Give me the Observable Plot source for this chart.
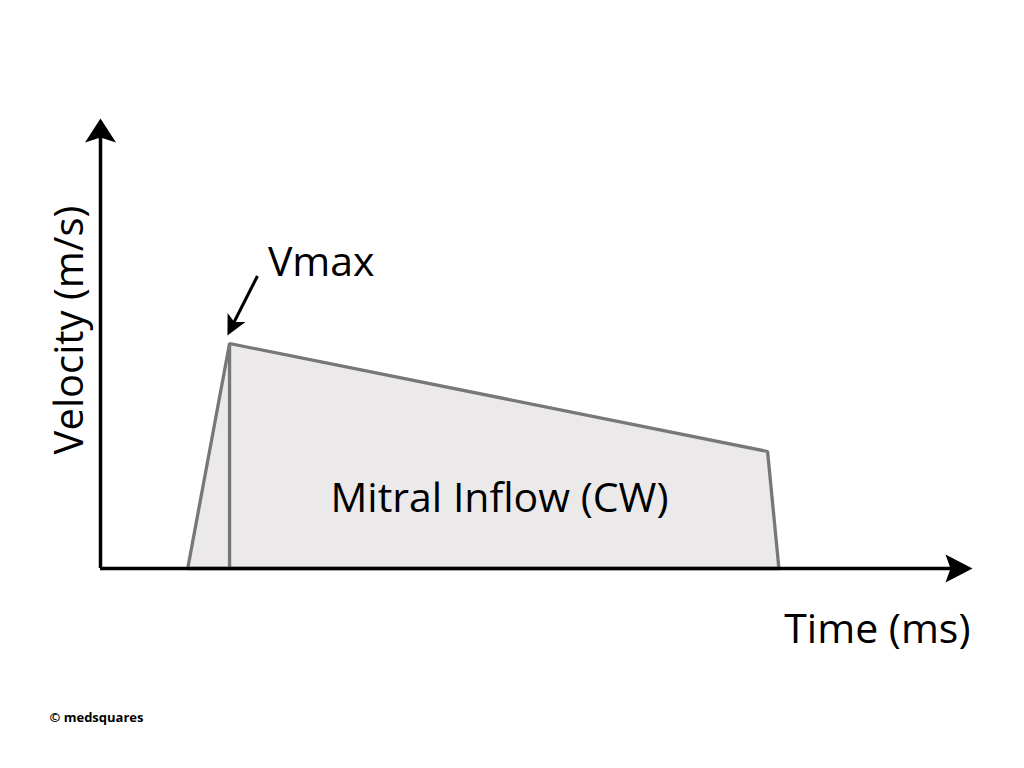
<!DOCTYPE html>
<html>
<head>
<meta charset="utf-8">
<script src="https://cdn.jsdelivr.net/npm/d3@7"></script>
<script src="https://cdn.jsdelivr.net/npm/@observablehq/plot@0.6"></script>
<style>
  html, body { margin: 0; padding: 0; background: #fff; }
  #chart svg { display: block; }
</style>
</head>
<body>
<div id="chart"></div>
<script>
// Mitral inflow (CW) envelope: time (arbitrary ms units) and velocity (m/s)
const envTime = [100, 148, 765, 778, 100];
const envVel  = [0,   1.0, 0.52, 0,  0];
const peakTime = 148;
const peakVel = 1.0;

// Vmax annotation arrow (start -> end)
const vmaxArrowFrom = [180, 1.30];
const vmaxArrowTo   = [145.6, 1.036];

// labels
const xLabel = "Time (ms)";
const yLabel = "Velocity (m/s)";
const areaLabel = "Mitral Inflow (CW)";
const peakLabel = "Vmax";
const credit = "© medsquares";

const envelope = envTime.map((t, i) => ({t, v: envVel[i]}));

// custom filled arrowhead symbols (tip at the dot position)
function arrowHead(angleDeg, len, half, notch) {
  const a = angleDeg * Math.PI / 180;
  const dx = Math.cos(a), dy = Math.sin(a);   // pointing direction (screen)
  const px = -dy, py = dx;
  return {
    draw(ctx) {
      ctx.moveTo(0, 0);
      ctx.lineTo(-dx * len + px * half, -dy * len + py * half);
      ctx.lineTo(-dx * notch, -dy * notch);
      ctx.lineTo(-dx * len - px * half, -dy * len - py * half);
      ctx.closePath();
    }
  };
}
const upHead = arrowHead(-90, 24, 15.5, 19);
const rightHead = arrowHead(0, 27, 14, 22);
const vmaxHead = arrowHead(Math.atan2(61, -31) * 180 / Math.PI, 20, 10, 15);

const font = "'Open Sans', 'Noto Sans', sans-serif";

const chart = Plot.plot({
  width: 1024,
  height: 768,
  marginLeft: 100,
  marginRight: 52,
  marginTop: 118,
  marginBottom: 200,
  x: {domain: [0, 1000], axis: null},
  y: {domain: [0, 2], axis: null},
  style: {fontFamily: font, background: "#fff"},
  marks: [
    // envelope fill
    Plot.areaY(envelope.slice(0, 4), {x: "t", y: "v", fill: "#ebe9ea"}),
    // envelope outline
    Plot.line(envelope, {x: "t", y: "v", stroke: "#777", strokeWidth: 3.3, strokeLinejoin: "miter"}),
    Plot.ruleX([peakTime], {y1: 0, y2: peakVel, stroke: "#777", strokeWidth: 3.3}),
    // axes
    Plot.ruleY([0], {x1: 0, x2: 978, stroke: "#000", strokeWidth: 3.5}),
    Plot.ruleX([0], {y1: 0, y2: 1.92, stroke: "#000", strokeWidth: 3.5}),
    Plot.dot([[0, 2]], {x: d => d[0], y: d => d[1], symbol: upHead, fill: "#000", stroke: "none"}),
    Plot.dot([[1000, 0]], {x: d => d[0], y: d => d[1], symbol: rightHead, fill: "#000", stroke: "none"}),
    // Vmax arrow
    Plot.link([0], {
      x1: () => vmaxArrowFrom[0], y1: () => vmaxArrowFrom[1],
      x2: () => 152.5, y2: () => 1.09,
      stroke: "#000", strokeWidth: 3
    }),
    Plot.dot([vmaxArrowTo], {x: d => d[0], y: d => d[1], symbol: vmaxHead, fill: "#000", stroke: "none"}),
    // texts
    Plot.text([peakLabel], {x: 192, y: 1.302, text: d => d, textAnchor: "start", lineAnchor: "bottom", fontSize: 41, fill: "#000", dy: 0}),
    Plot.text([areaLabel], {x: 457.6, y: 0.311, text: d => d, textAnchor: "middle", lineAnchor: "middle", fontSize: 41, fill: "#000"}),
    Plot.text([xLabel], {x: 997.7, y: -0.333, text: d => d, textAnchor: "end", lineAnchor: "bottom", fontSize: 41, fill: "#000", dy: 0}),
    Plot.text([yLabel], {x: -34.4, y: 1.06, text: d => d, textAnchor: "middle", lineAnchor: "middle", rotate: -90, fontSize: 40, fill: "#000"}),
    Plot.text([credit], {x: -58.5, y: -0.662, text: d => d, textAnchor: "start", lineAnchor: "bottom", fontSize: 13, fontWeight: "bold", fill: "#000", dy: 5})
  ]
});
document.getElementById("chart").append(chart);
</script>
</body>
</html>
